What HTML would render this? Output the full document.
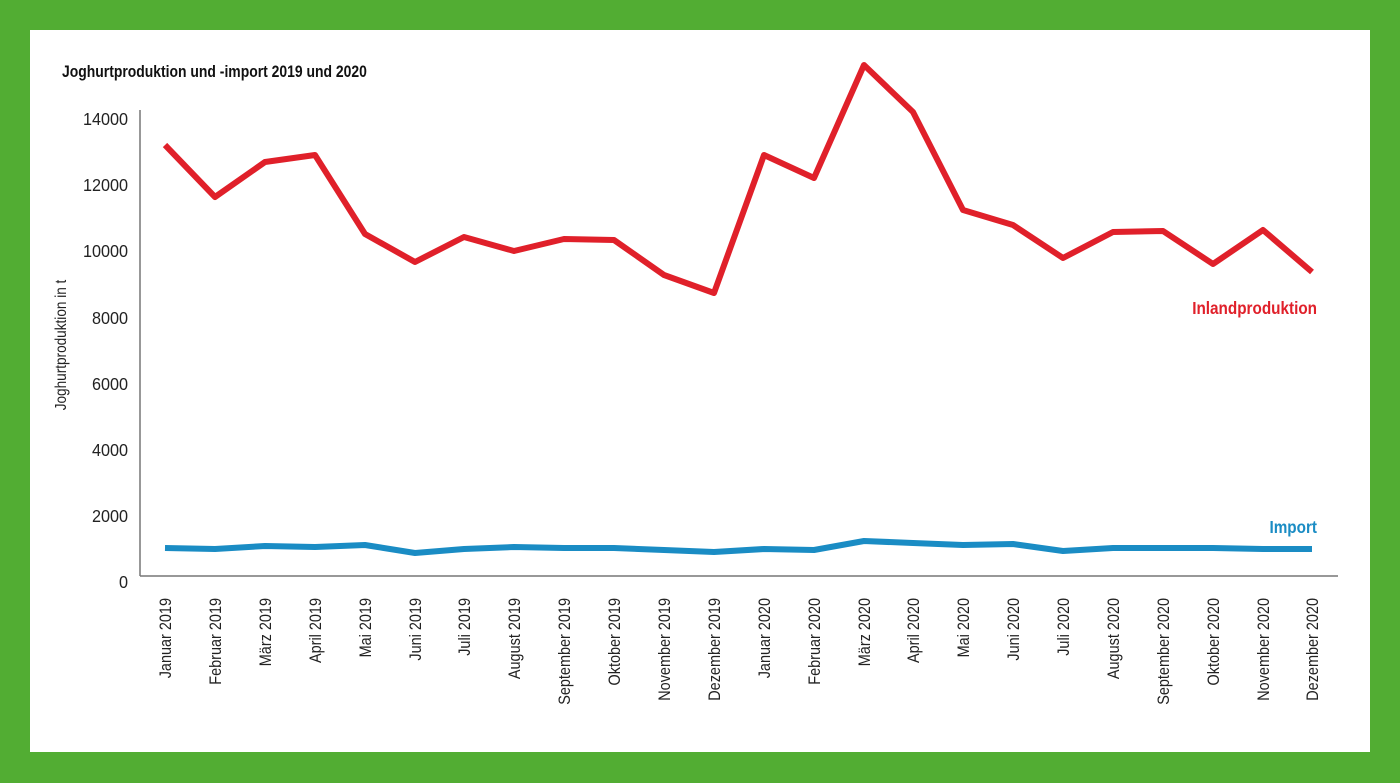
<!DOCTYPE html>
<html><head><meta charset="utf-8"><style>
html,body{margin:0;padding:0;background:#52ad33;}
body{width:1400px;height:783px;position:relative;overflow:hidden;}
.panel{position:absolute;left:30px;top:30px;width:1340px;height:722px;background:#fff;}
svg{position:absolute;left:0;top:0;}
text{font-family:"Liberation Sans Narrow","Liberation Sans",sans-serif;}
</style></head><body>
<div class="panel"></div>
<svg width="1400" height="783" viewBox="0 0 1400 783">
<text x="62" y="77" font-size="17" font-weight="bold" fill="#111" transform="translate(62,0) scale(0.82,1) translate(-62,0)">Joghurtproduktion und -import 2019 und 2020</text>
<line x1="140" y1="110" x2="140" y2="576" stroke="#777" stroke-width="1.5"/>
<line x1="140" y1="576" x2="1338" y2="576" stroke="#777" stroke-width="1.5"/>
<g font-size="18" fill="#222" text-anchor="end">
<text transform="translate(128,125) scale(0.9,1)">14000</text>
<text transform="translate(128,191) scale(0.9,1)">12000</text>
<text transform="translate(128,257) scale(0.9,1)">10000</text>
<text transform="translate(128,324) scale(0.9,1)">8000</text>
<text transform="translate(128,390) scale(0.9,1)">6000</text>
<text transform="translate(128,456) scale(0.9,1)">4000</text>
<text transform="translate(128,522) scale(0.9,1)">2000</text>
<text transform="translate(128,588) scale(0.9,1)">0</text>
</g>
<text transform="translate(66,345) rotate(-90) scale(0.85,1)" font-size="16" fill="#222" text-anchor="middle">Joghurtproduktion in t</text>
<polyline fill="none" stroke="#e0202a" stroke-width="6" stroke-linejoin="round" points="165,145 215,197 265,162 315,155 365,234 415,262 464,237 514,251 564,239 614,240 664,275 714,293 764,155 814,178 864,65 913,112 963,210 1013,225 1063,258 1113,232 1163,231 1213,264 1263,230 1312,272"/>
<polyline fill="none" stroke="#1a8cc4" stroke-width="6" stroke-linejoin="round" points="165,548 215,549 265,546 315,547 365,545 415,553 464,549 514,547 564,548 614,548 664,550 714,552 764,549 814,550 864,541 913,543 963,545 1013,544 1063,551 1113,548 1163,548 1213,548 1263,549 1312,549"/>
<text transform="translate(1317,314) scale(0.85,1)" font-size="18" font-weight="bold" fill="#e0202a" text-anchor="end">Inlandproduktion</text>
<text transform="translate(1317,533) scale(0.85,1)" font-size="18" font-weight="bold" fill="#1a8cc4" text-anchor="end">Import</text>
<g font-size="17" fill="#222" text-anchor="end">
<text transform="translate(171,598) rotate(-90) scale(0.85,1)">Januar 2019</text>
<text transform="translate(221,598) rotate(-90) scale(0.85,1)">Februar 2019</text>
<text transform="translate(271,598) rotate(-90) scale(0.85,1)">März 2019</text>
<text transform="translate(321,598) rotate(-90) scale(0.85,1)">April 2019</text>
<text transform="translate(371,598) rotate(-90) scale(0.85,1)">Mai 2019</text>
<text transform="translate(421,598) rotate(-90) scale(0.85,1)">Juni 2019</text>
<text transform="translate(470,598) rotate(-90) scale(0.85,1)">Juli 2019</text>
<text transform="translate(520,598) rotate(-90) scale(0.85,1)">August 2019</text>
<text transform="translate(570,598) rotate(-90) scale(0.85,1)">September 2019</text>
<text transform="translate(620,598) rotate(-90) scale(0.85,1)">Oktober 2019</text>
<text transform="translate(670,598) rotate(-90) scale(0.85,1)">November 2019</text>
<text transform="translate(720,598) rotate(-90) scale(0.85,1)">Dezember 2019</text>
<text transform="translate(770,598) rotate(-90) scale(0.85,1)">Januar 2020</text>
<text transform="translate(820,598) rotate(-90) scale(0.85,1)">Februar 2020</text>
<text transform="translate(870,598) rotate(-90) scale(0.85,1)">März 2020</text>
<text transform="translate(919,598) rotate(-90) scale(0.85,1)">April 2020</text>
<text transform="translate(969,598) rotate(-90) scale(0.85,1)">Mai 2020</text>
<text transform="translate(1019,598) rotate(-90) scale(0.85,1)">Juni 2020</text>
<text transform="translate(1069,598) rotate(-90) scale(0.85,1)">Juli 2020</text>
<text transform="translate(1119,598) rotate(-90) scale(0.85,1)">August 2020</text>
<text transform="translate(1169,598) rotate(-90) scale(0.85,1)">September 2020</text>
<text transform="translate(1219,598) rotate(-90) scale(0.85,1)">Oktober 2020</text>
<text transform="translate(1269,598) rotate(-90) scale(0.85,1)">November 2020</text>
<text transform="translate(1318,598) rotate(-90) scale(0.85,1)">Dezember 2020</text>
</g>
</svg>
</body></html>
